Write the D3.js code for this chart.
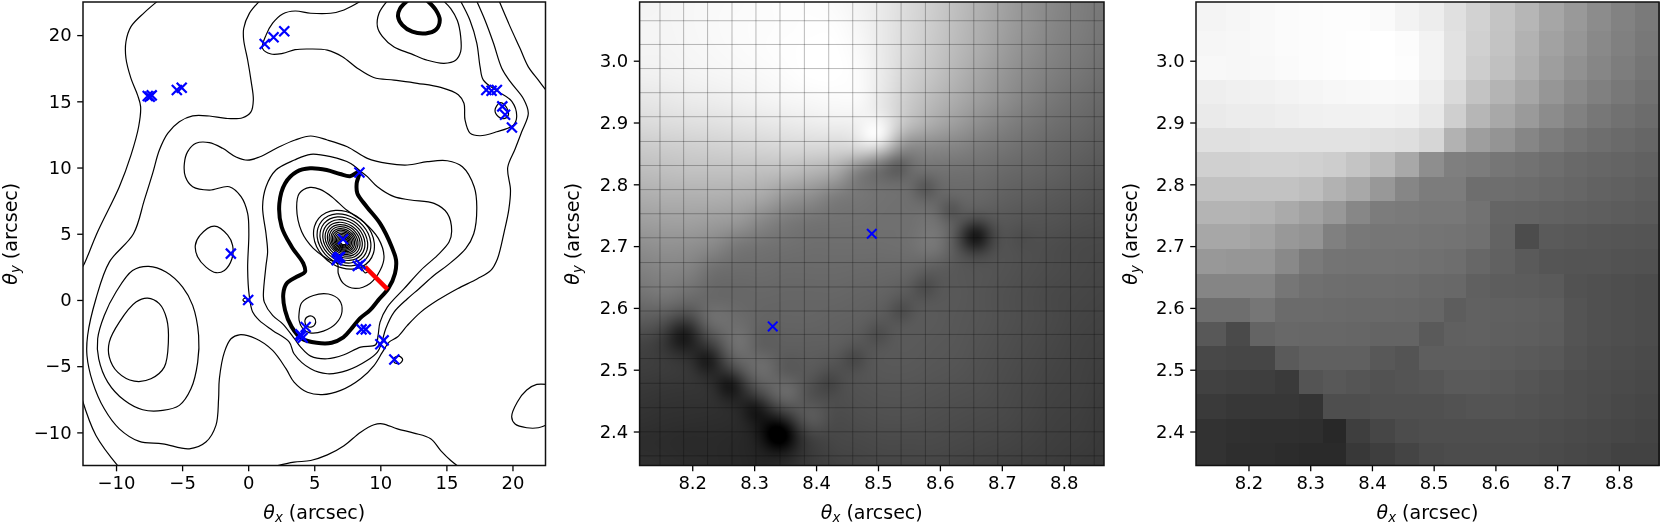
<!DOCTYPE html>
<html><head><meta charset="utf-8">
<script src="https://cdn.jsdelivr.net/npm/d3@7/dist/d3.min.js"></script>
<style>
html,body{margin:0;padding:0;background:#fff;width:1661px;height:524px;overflow:hidden}
#wrap{position:relative;width:1661px;height:524px}
canvas{position:absolute}
svg{position:absolute;left:0;top:0}
text{font-family:"DejaVu Sans",sans-serif;fill:#000}
</style></head><body><div id="wrap"></div>
<script>
// ---------- left panel: tick labels, contours in arcsec, images ----------
const lensTicks=[-10,-5,0,5,10,15,20];
const zoomXTicks=[8.2,8.3,8.4,8.5,8.6,8.7,8.8];
const zoomYTicks=[2.4,2.5,2.6,2.7,2.8,2.9,3.0];

const openA=[[-6.9,22.53],[-7.86,21.7],[-8.87,20.64],[-9.25,19.5],[-9.25,18.25],[-8.87,16.73],[-8.37,15.47],[-8.14,14.6],[-8.29,13.08],[-8.87,10.94],[-9.75,8.55],[-11.4,5.13],[-12.4,2.74],[-12.6,2.4]];
const openB=[[0.84,22.55],[0.09,21.64],[-0.34,20.5],[-0.34,19.63],[-0.04,18.12],[0.21,16.6],[0.39,15.1],[0.21,14.2],[-0.42,13.76],[-1.68,13.71],[-2.94,13.89],[-4.2,13.9],[-5.21,13.46],[-6.09,12.58],[-6.72,11.32],[-7.23,9.56],[-7.86,7.54],[-8.68,5.0],[-10.51,2.86],[-11.52,0.09],[-12.15,-2.68],[-12.2,-4.19],[-11.77,-6.2],[-10.89,-8.22],[-9.75,-9.73],[-8.24,-10.68],[-6.47,-10.86],[-4.46,-11.24],[-3.2,-10.73],[-2.44,-9.47],[-2.24,-7.46],[-2.18,-5.95],[-1.8,-3.94],[-1.3,-2.93],[-0.67,-2.63],[0.59,-2.93],[1.85,-3.81],[2.86,-5.19],[3.47,-6.2],[4.48,-6.97],[5.61,-7.15],[7.0,-6.83],[8.51,-5.95],[9.52,-4.95],[10.16,-3.94],[10.66,-3.18],[11.29,-2.8],[12.05,-1.92],[13.06,-0.92],[14.32,-0.03],[15.84,0.85],[17.35,1.6],[18.36,2.23],[18.86,3.1],[19.37,5.13],[19.72,6.8],[19.85,8.3],[19.64,10],[20.2,11.4],[20.7,12.7],[21.2,14.1],[20.83,15.2],[19.82,16.5],[19.19,17.5],[18.56,19.4],[17.93,21.1],[17.3,22.55]];
const openC=[[-12.6,-7.4],[-11.52,-10.23],[-9.8,-12.6]];
const openD=[[8.5,22.55],[7.25,21.9],[6.24,21.65],[4.73,21.65],[3.55,21.82],[2.61,21.6],[1.85,20.9],[1.35,20.0],[1.09,19.0],[1.73,18.57],[2.61,18.62],[3.55,18.9],[4.48,18.95],[5.99,18.87],[7.13,18.37],[8.26,17.5],[9.5,16.8],[11.04,16.6],[12.8,16.36],[14.57,16.05],[15.9,15.5],[16.33,14.85],[16.41,13.6],[16.79,12.6],[17.54,12.4],[18.81,12.7],[20.07,13.2],[20.32,13.85],[19.95,15.0],[18.9,15.75],[17.8,16.6],[17.55,17.6],[17.3,19.4],[16.79,21.1],[16.08,22.55]];
const openE=[[10.5,22.55],[9.9,21.65],[9.78,20.64],[10.15,19.9],[11.04,19.1],[12.3,18.6],[13.56,18.1],[14.82,17.87],[15.7,18.1],[16.08,18.75],[16.08,19.9],[15.83,21.1],[15.33,22.0],[14.82,22.55]];
const openF=[[19.0,22.55],[19.82,20.64],[20.57,19.0],[21.2,17.6],[21.96,16.6],[22.6,15.75]];
const openG=[[2.1,-12.55],[3.47,-12.25],[4.73,-12.12],[5.99,-11.7],[7.25,-11.0],[8.51,-9.98],[9.52,-9.42],[10.15,-9.35],[11.29,-9.73],[12.55,-10.05],[13.81,-10.48],[14.57,-11.37],[15.33,-12.12],[15.88,-12.55]];
const openH=[[22.6,-6.38],[21.84,-6.38],[21.08,-6.8],[20.37,-7.7],[19.94,-8.82],[20.2,-9.37],[21.08,-9.65],[21.96,-9.65],[22.6,-9.42]];

const loopMid=[[3.55,12.08],[2.36,11.57],[0.85,10.8],[-0.04,10.56],[-0.92,10.8],[-1.93,11.45],[-2.94,11.88],[-3.95,11.83],[-4.58,11.2],[-4.83,10.3],[-4.75,9.3],[-4.2,8.55],[-2.94,8.3],[-1.43,8.55],[-0.54,7.8],[-0.04,6.54],[0.05,5.0],[-0.04,2.36],[0.08,0.34],[0.34,-0.91],[0.84,-1.54],[1.85,-2.3],[3.11,-3.18],[3.47,-4.06],[4.73,-5.2],[5.99,-5.57],[7.5,-5.32],[9.02,-4.56],[9.78,-3.94],[10.08,-3.3],[10.41,-2.17],[11.04,-0.92],[12.05,0.09],[12.93,0.85],[14.07,1.86],[15.07,2.61],[16.46,3.87],[17.07,5.0],[17.3,7.04],[17.1,8.55],[16.21,10.06],[15.07,10.51],[13.56,10.44],[12.05,10.19],[10.54,10.31],[9.02,10.69],[7.5,11.57],[5.99,12.08],[4.73,12.38]];
const loopInner=[[3.5,10.57],[4.73,11.0],[6.24,10.82],[7.76,10.31],[8.39,9.81],[9.02,9.31],[9.78,8.55],[11.04,7.8],[12.3,7.55],[14.07,7.29],[15.07,6.54],[15.4,5.2],[15.2,4.37],[14.32,3.37],[13.06,2.24],[11.8,0.85],[10.53,-0.54],[9.98,-1.67],[9.83,-2.68],[9.65,-3.38],[8.51,-3.56],[7.25,-4.14],[5.99,-4.44],[4.73,-4.24],[3.97,-3.56],[3.47,-2.88],[2.61,-1.8],[1.85,-1.17],[1.22,-0.16],[1.15,0.34],[1.35,2.61],[1.47,3.62],[1.35,5.0],[1.09,7.04],[1.35,8.55],[2.1,9.81]];
const loopTear=[[4.68,8.5],[3.87,8.05],[3.67,6.92],[4.05,5.15],[4.93,3.9],[6.07,3.06],[6.75,2.76],[6.82,2.0],[7.2,1.25],[8.09,0.87],[9.22,1.25],[10.0,2.26],[10.28,3.27],[9.85,4.65],[8.72,5.91],[7.45,6.79],[6.32,7.8],[5.44,8.35]];
const loopSouth=[[3.85,-1.02],[4.05,-0.21],[4.93,0.34],[6.07,0.45],[6.9,-0.01],[7.1,-0.89],[6.65,-1.77],[5.69,-2.35],[4.68,-2.48],[4.12,-2.15],[3.85,-1.52]];
const loopSouthSmall=[[4.3,-1.52],[4.6,-1.22],[4.98,-1.32],[5.11,-1.67],[4.85,-2.02],[4.43,-1.97]];
const loopWest=[[-2.56,5.58],[-1.55,4.9],[-1.18,4.12],[-1.23,3.11],[-1.8,2.23],[-2.43,2.06],[-3.19,2.48],[-3.82,3.24],[-4,4.12],[-3.65,4.88]];
const loopFarOuter=[[-7.53,2.54],[-8.75,2.23],[-10.0,0.6],[-10.89,-1.17],[-11.39,-2.93],[-11.31,-4.45],[-10.63,-6.2],[-9.37,-7.58],[-7.98,-8.29],[-6.47,-8.34],[-5.21,-7.96],[-4.33,-6.71],[-3.82,-4.69],[-3.75,-2.68],[-4.2,-0.41],[-4.96,0.97],[-6.22,2.11]];
const loopFarInner=[[-7.61,0.14],[-8.49,-0.16],[-9.75,-1.67],[-10.51,-3.18],[-10.51,-4.31],[-9.88,-5.45],[-8.62,-6.13],[-7.36,-5.95],[-6.35,-5.07],[-6.04,-3.18],[-6.17,-1.42],[-6.73,-0.28]];
const loopEastSmall=[[18.68,14.34],[19.06,14.9],[19.51,14.6],[19.69,13.97],[19.36,13.69],[18.94,13.83]];
const loopSE=[[11.42,-4.24],[11.69,-4.51],[11.42,-4.82],[11.04,-4.69],[11.04,-4.4]];
const loopOrigin=[[-0.4,0.0],[-0.2,0.16],[0.0,0.0],[-0.2,-0.16]];
const loopRed=[[8.6,2.5],[8.95,2.45],[9.1,2.2],[8.85,2.05]];
const thickCentral=[[8.41,9.68],[7.71,9.35],[6.95,9.51],[5.94,9.81],[4.68,9.94],[3.67,9.68],[2.79,8.8],[2.36,7.29],[2.53,5.53],[3.29,4.02],[4.17,2.76],[4.3,2.13],[3.67,1.75],[2.91,1.24],[2.66,0.49],[2.79,-0.77],[3.29,-2.03],[4.05,-2.91],[5.18,-3.23],[6.32,-3.23],[7.2,-2.83],[7.83,-2.15],[8.46,-1.39],[9.22,-0.77],[9.85,-0.01],[10.61,0.87],[11.11,2.0],[11.19,3.01],[10.86,4.02],[9.98,5.78],[8.97,7.04],[8.26,8.05],[8.21,8.8]];
const thickTop=[[12.05,22.6],[11.49,22],[11.34,21.4],[11.67,20.75],[12.42,20.26],[13.43,20.13],[14.2,20.4],[14.5,21.15],[14.2,21.9],[13.56,22.6]];
// nucleus rings: centre x, centre y, major, minor semi-axis (arcsec)
const coreRings=[[7.25,4.55,2.5,2.0],[7.25,4.54,2.2,1.78],[7.24,4.53,1.95,1.58],[7.24,4.52,1.72,1.4],[7.23,4.51,1.52,1.23],[7.23,4.5,1.34,1.08],[7.22,4.49,1.18,0.95],[7.22,4.47,1.04,0.83],[7.21,4.46,0.91,0.73],[7.21,4.45,0.79,0.63],[7.2,4.44,0.67,0.54],[7.2,4.43,0.56,0.45],[7.2,4.42,0.45,0.37],[7.2,4.41,0.35,0.29],[7.2,4.4,0.25,0.21]];
const ringTiltDeg=-40;
const imageSources=[[1.25,19.33],[1.92,19.84],[2.73,20.29],[-7.6,15.4],[-7.3,15.45],[-7.45,15.35],[-5.4,15.86],[-5.03,16.03],[18.02,15.86],[18.42,15.8],[18.82,15.86],[19.23,14.62],[19.44,13.99],[19.96,13.03],[-1.31,3.5],[0,0],[8.42,9.63],[7.18,4.59],[6.78,3.15],[6.85,3.2],[6.7,3.0],[6.95,3.25],[8.3,2.57],[8.5,2.7],[4.35,-2.04],[4.0,-2.72],[4.13,-2.85],[3.95,-2.6],[8.58,-2.22],[8.9,-2.22],[10.0,-3.35],[10.25,-3.05],[11.06,-4.49]];
const redSegment=[[8.85,2.5],[10.55,0.8]];

// ---------- middle panel ----------
const middleMarks=[[8.33,2.57],[8.49,2.72]];
const gridX=[8.1479,8.1861,8.2248,8.2642,8.3029,8.3417,8.3811,8.4204,8.4592,8.4979,8.5373,8.5766,8.6154,8.6547,8.6935,8.7323,8.7716,8.811,8.8492];
const gridY=[3.0647,3.0263,2.9873,2.9483,2.9094,2.8693,2.8304,2.7914,2.7524,2.7135,2.6734,2.6339,2.595,2.5571,2.5181,2.478,2.4385,2.3995,2.3606];
const smoothGrey=[
[243,245,247,249,250,252,253,253,250,243,232,218,205,190,175,160,146,135,126,120],
[245,245,247,249,251,252,253,254,253,245,232,217,203,188,173,158,145,133,125,118],
[244,244,246,248,250,252,254,255,255,248,232,215,200,185,170,154,141,130,122,115],
[240,241,243,245,247,249,252,255,255,250,232,210,195,179,163,148,135,125,117,110],
[230,232,235,237,240,243,246,248,250,248,228,203,185,170,155,141,128,118,110,104],
[218,220,222,224,227,230,233,236,238,235,220,190,170,155,140,128,118,110,104,98],
[202,204,206,208,210,212,214,214,212,205,175,140,135,130,122,115,108,102,97,92],
[188,190,192,192,192,190,186,178,165,130,122,118,114,112,110,104,100,96,90,86],
[173,175,175,175,172,166,150,140,125,118,114,112,108,106,102,96,92,88,84,80],
[158,160,160,156,150,135,122,116,114,113,112,112,116,104,94,88,84,82,78,76],
[142,145,143,135,120,115,112,110,110,110,110,112,118,95,86,84,80,76,73,72],
[128,132,128,112,108,108,106,106,106,105,104,102,94,88,85,82,78,75,72,70],
[114,118,110,104,103,103,102,102,102,100,98,92,90,88,84,80,76,72,70,68],
[92,90,86,110,108,100,100,100,98,96,92,92,90,87,84,80,76,72,68,66],
[68,64,62,80,112,95,95,95,94,90,90,90,88,86,82,78,74,70,66,64],
[62,60,58,58,90,108,90,90,84,86,88,88,86,84,80,76,72,68,65,62],
[55,53,52,52,52,85,105,82,80,82,84,84,82,80,78,74,70,66,64,60],
[50,48,47,46,45,45,70,90,76,78,80,80,78,76,74,72,68,64,62,58],
[45,44,42,42,40,38,42,62,70,72,74,74,74,72,70,68,65,62,60,57],
[48,46,44,42,40,38,45,58,65,68,70,70,70,68,66,64,62,60,57,56]];
// caustic spots: x, y, grey change, radius (arcsec)
const causticSpots=[[8.1849,2.5571,-40,0.021],[8.224,2.517,-30,0.017],[8.26,2.478,-32,0.017],[8.302,2.4385,-26,0.017],[8.34,2.398,-55,0.02],[8.656,2.716,-65,0.019],[8.616,2.757,-20,0.015],[8.575,2.795,-20,0.015],[8.532,2.83,-28,0.017],[8.5,2.83,-14,0.018],[8.575,2.634,-14,0.015],[8.537,2.595,-14,0.015],[8.499,2.557,-12,0.015],[8.461,2.518,-14,0.015],[8.42,2.478,-12,0.015],[8.73,2.713,-5,0.015],[8.499,2.875,40,0.02]];

// ---------- right panel ----------
const cellEdgesX=[8.115,8.1629,8.203,8.2426,8.2815,8.3205,8.3579,8.3974,8.4369,8.4765,8.516,8.5528,8.5918,8.6319,8.6709,8.7104,8.7483,8.7873,8.8263,8.865];
const cellEdgesY=[3.095,3.0479,3.0073,2.9683,2.9305,2.891,2.8515,2.812,2.7725,2.7356,2.695,2.6555,2.616,2.5766,2.5376,2.5002,2.4607,2.4207,2.3806,2.345];
const cellGrey=[
[244,246,249,251,252,253,253,250,243,237,224,210,196,182,166,153,140,130,122],
[246,247,249,251,252,253,254,255,252,243,226,208,195,178,162,150,137,128,120],
[248,247,248,250,252,253,254,255,253,243,226,205,192,175,158,145,134,125,117],
[238,240,241,243,245,247,248,249,248,238,218,195,180,166,150,138,128,120,113],
[234,236,236,238,240,241,241,242,240,232,207,182,168,154,140,129,119,113,108],
[224,224,226,226,226,226,226,224,222,214,178,158,148,134,124,116,110,106,102],
[208,208,210,210,208,205,196,186,168,142,127,124,118,114,110,105,102,100,97],
[194,194,194,194,190,178,168,152,134,124,124,110,110,108,105,102,98,96,93],
[180,180,178,170,162,152,135,124,122,120,120,114,101,100,98,96,94,92,90],
[167,167,163,152,148,128,120,118,118,116,115,112,99,76,90,88,86,85,84],
[152,150,150,137,122,116,115,115,114,112,110,103,97,90,85,84,84,82,81],
[133,133,133,118,112,110,109,109,108,105,104,96,93,92,90,82,80,78,76],
[110,110,118,107,107,106,105,105,104,102,93,97,96,95,93,84,80,78,76],
[88,74,100,104,103,103,102,100,100,90,96,97,95,94,92,84,80,78,76],
[72,70,70,90,96,96,96,88,84,94,94,94,92,90,88,82,78,76,74],
[65,63,62,58,84,88,85,82,84,86,90,90,88,85,82,78,76,74,72],
[58,55,55,55,52,78,78,80,80,80,82,84,84,82,80,78,75,72,70],
[50,48,47,47,46,40,62,70,76,78,78,78,78,78,76,74,72,70,68],
[50,46,46,44,42,42,56,62,68,74,76,76,76,76,74,72,70,66,66]];

// ---------- layout ----------
const H=524, topY=2, botY=465.5;
const panels=[{l:83,r:545.5,lab:11},{l:639.6,r:1104,lab:573},{l:1196,r:1659,lab:1131}];
const wrap=d3.select("#wrap");
const fmt=d=>(d<0?"\u2212":"")+Math.abs(d);
const lensX=d3.scaleLinear().domain([-12.5,22.5]).range([panels[0].l,panels[0].r]);
const lensY=d3.scaleLinear().domain([-12.5,22.5]).range([botY,topY]);
const zoomX=i=>d3.scaleLinear().domain([8.115,8.865]).range([panels[i].l,panels[i].r]);
const zoomY=d3.scaleLinear().domain([2.345,3.095]).range([botY,topY]);
const midX=zoomX(1), rightX=zoomX(2);

// middle image
(function(){
 const w=Math.round(panels[1].r-panels[1].l), h=Math.round(botY-topY);
 const c=wrap.append("canvas").attr("width",w).attr("height",h).style("left",panels[1].l+"px").style("top",topY+"px").node();
 const ctx=c.getContext("2d"), im=ctx.createImageData(w,h);
 const nx=smoothGrey[0].length, ny=smoothGrey.length;
 const gx=d3.scaleLinear().domain([0,w]).range([0,nx-1]);
 const gy=d3.scaleLinear().domain([0,h]).range([0,ny-1]);
 const cub=(a,b,c2,d,t)=>b+0.5*t*(c2-a+t*(2*a-5*b+4*c2-d+t*(3*(b-c2)+d-a)));
 const at=(j,i)=>smoothGrey[Math.max(0,Math.min(ny-1,j))][Math.max(0,Math.min(nx-1,i))];
 for(let py=0;py<h;py++){
  const fy=gy(py+.5), j=Math.floor(fy), ty=fy-j, dy=zoomY.invert(topY+py+.5);
  for(let px=0;px<w;px++){
   const fx=gx(px+.5), i=Math.floor(fx), tx=fx-i, dx=midX.invert(panels[1].l+px+.5);
   const rows=[-1,0,1,2].map(o=>cub(at(j+o,i-1),at(j+o,i),at(j+o,i+1),at(j+o,i+2),tx));
   let v=cub(rows[0],rows[1],rows[2],rows[3],ty);
   causticSpots.forEach(s=>{const d2=(dx-s[0])**2+(dy-s[1])**2; v+=s[2]*Math.exp(-d2/(2*s[3]*s[3]));});
   v=Math.max(0,Math.min(255,v));
   const k=(py*w+px)*4; im.data[k]=im.data[k+1]=im.data[k+2]=v; im.data[k+3]=255;
  }
 }
 ctx.putImageData(im,0,0);
})();

const svg=wrap.append("svg").attr("width",1661).attr("height",H);
const defs=svg.append("defs");
defs.append("clipPath").attr("id","clipLens").append("rect").attr("x",panels[0].l).attr("y",topY).attr("width",panels[0].r-panels[0].l).attr("height",botY-topY);
defs.append("filter").attr("id","soft").attr("x","-5%").attr("y","-5%").attr("width","110%").attr("height","110%").append("feGaussianBlur").attr("stdDeviation",0.35);

// right image
const gRight=svg.append("g").attr("shape-rendering","crispEdges");
cellGrey.forEach((row,j)=>row.forEach((v,i)=>{
 gRight.append("rect").attr("x",rightX(cellEdgesX[i])).attr("y",zoomY(cellEdgesY[j]))
  .attr("width",rightX(cellEdgesX[i+1])-rightX(cellEdgesX[i])+.5).attr("height",zoomY(cellEdgesY[j+1])-zoomY(cellEdgesY[j])+.5)
  .attr("fill",d3.rgb(v,v,v));
}));

// middle grid + marks
const gMid=svg.append("g");
gridX.forEach(x=>gMid.append("line").attr("x1",midX(x)).attr("x2",midX(x)).attr("y1",topY).attr("y2",botY).attr("stroke","#000").attr("stroke-opacity",.27).attr("stroke-width",1));
gridY.forEach(y=>gMid.append("line").attr("y1",zoomY(y)).attr("y2",zoomY(y)).attr("x1",panels[1].l).attr("x2",panels[1].r).attr("stroke","#000").attr("stroke-opacity",.27).attr("stroke-width",1));
function cross(g,x,y,r,sw){g.append("path").attr("d",`M${x-r},${y-r}L${x+r},${y+r}M${x-r},${y+r}L${x+r},${y-r}`).attr("stroke","#0000ff").attr("stroke-width",sw).attr("fill","none");}
middleMarks.forEach(p=>cross(gMid,midX(p[0]),zoomY(p[1]),4.8,2));

// left contours
const gLens=svg.append("g").attr("clip-path","url(#clipLens)").append("g").attr("filter","url(#soft)");
const lineOpen=d3.line().x(d=>lensX(d[0])).y(d=>lensY(d[1])).curve(d3.curveCatmullRom.alpha(.5));
const lineClosed=d3.line().x(d=>lensX(d[0])).y(d=>lensY(d[1])).curve(d3.curveCatmullRomClosed.alpha(.5));
function draw(d,gen,w){gLens.append("path").attr("d",gen(d)).attr("fill","none").attr("stroke","#000").attr("stroke-width",w).attr("stroke-linejoin","round");}
[openA,openB,openC,openD,openE,openF,openG,openH].forEach(c=>draw(c,lineOpen,1.2));
[loopMid,loopInner,loopTear,loopSouth,loopSouthSmall,loopWest,loopFarOuter,loopFarInner,loopEastSmall,loopSE,loopOrigin,loopRed].forEach(c=>draw(c,lineClosed,1.2));
const tilt=ringTiltDeg*Math.PI/180;
const angles=d3.range(0,360,20).map(a=>a*Math.PI/180);
coreRings.forEach(r=>{
 const pts=angles.map(t=>{const u=r[2]*Math.cos(t), v=r[3]*Math.sin(t);return [r[0]+u*Math.cos(tilt)-v*Math.sin(tilt), r[1]+u*Math.sin(tilt)+v*Math.cos(tilt)];});
 draw(pts,lineClosed,1.2);
});
draw(thickCentral,lineClosed,4);
draw(thickTop,lineOpen,4);
gLens.append("path").attr("d",d3.line().x(d=>lensX(d[0])).y(d=>lensY(d[1]))(redSegment)).attr("stroke","#ff0000").attr("stroke-width",4.5).attr("fill","none");
imageSources.forEach(p=>cross(gLens,lensX(p[0]),lensY(p[1]),5,2.2));

// axes
function axes(i,xs,ys,xt,yt,ff){
 const p=panels[i];
 const ax=svg.append("g").attr("transform",`translate(0,${botY})`).call(d3.axisBottom(xs).tickValues(xt).tickSize(5.8).tickPadding(5).tickFormat(ff));
 const ay=svg.append("g").attr("transform",`translate(${p.l},0)`).call(d3.axisLeft(ys).tickValues(yt).tickSize(5.8).tickPadding(5.5).tickFormat(ff));
 [ax,ay].forEach(g=>{g.select(".domain").remove();g.selectAll(".tick line").attr("stroke","#000").attr("stroke-width",1.3);g.selectAll("text").style("font-size","18px").style("font-family",'"DejaVu Sans"').attr("fill","#000");});
 svg.append("rect").attr("x",p.l).attr("y",topY).attr("width",p.r-p.l).attr("height",botY-topY).attr("fill","none").attr("stroke","#111").attr("stroke-width",1.5);
 const label=(t,sub)=>{t.style("font-size","19px").attr("text-anchor","middle");
  t.append("tspan").text("\u03b8").style("font-style","italic");
  t.append("tspan").text(sub).style("font-style","italic").style("font-size","13.3px").attr("dy",3);
  t.append("tspan").text(" (arcsec)").attr("dy",-3);};
 label(svg.append("text").attr("x",(p.l+p.r)/2).attr("y",519),"x");
 label(svg.append("text").attr("transform",`translate(${p.lab+6},${(topY+botY)/2}) rotate(-90)`),"y");
}
axes(0,lensX,lensY,lensTicks,lensTicks,fmt);
axes(1,midX,zoomY,zoomXTicks,zoomYTicks,d3.format(".1f"));
axes(2,rightX,zoomY,zoomXTicks,zoomYTicks,d3.format(".1f"));
</script></body></html>
